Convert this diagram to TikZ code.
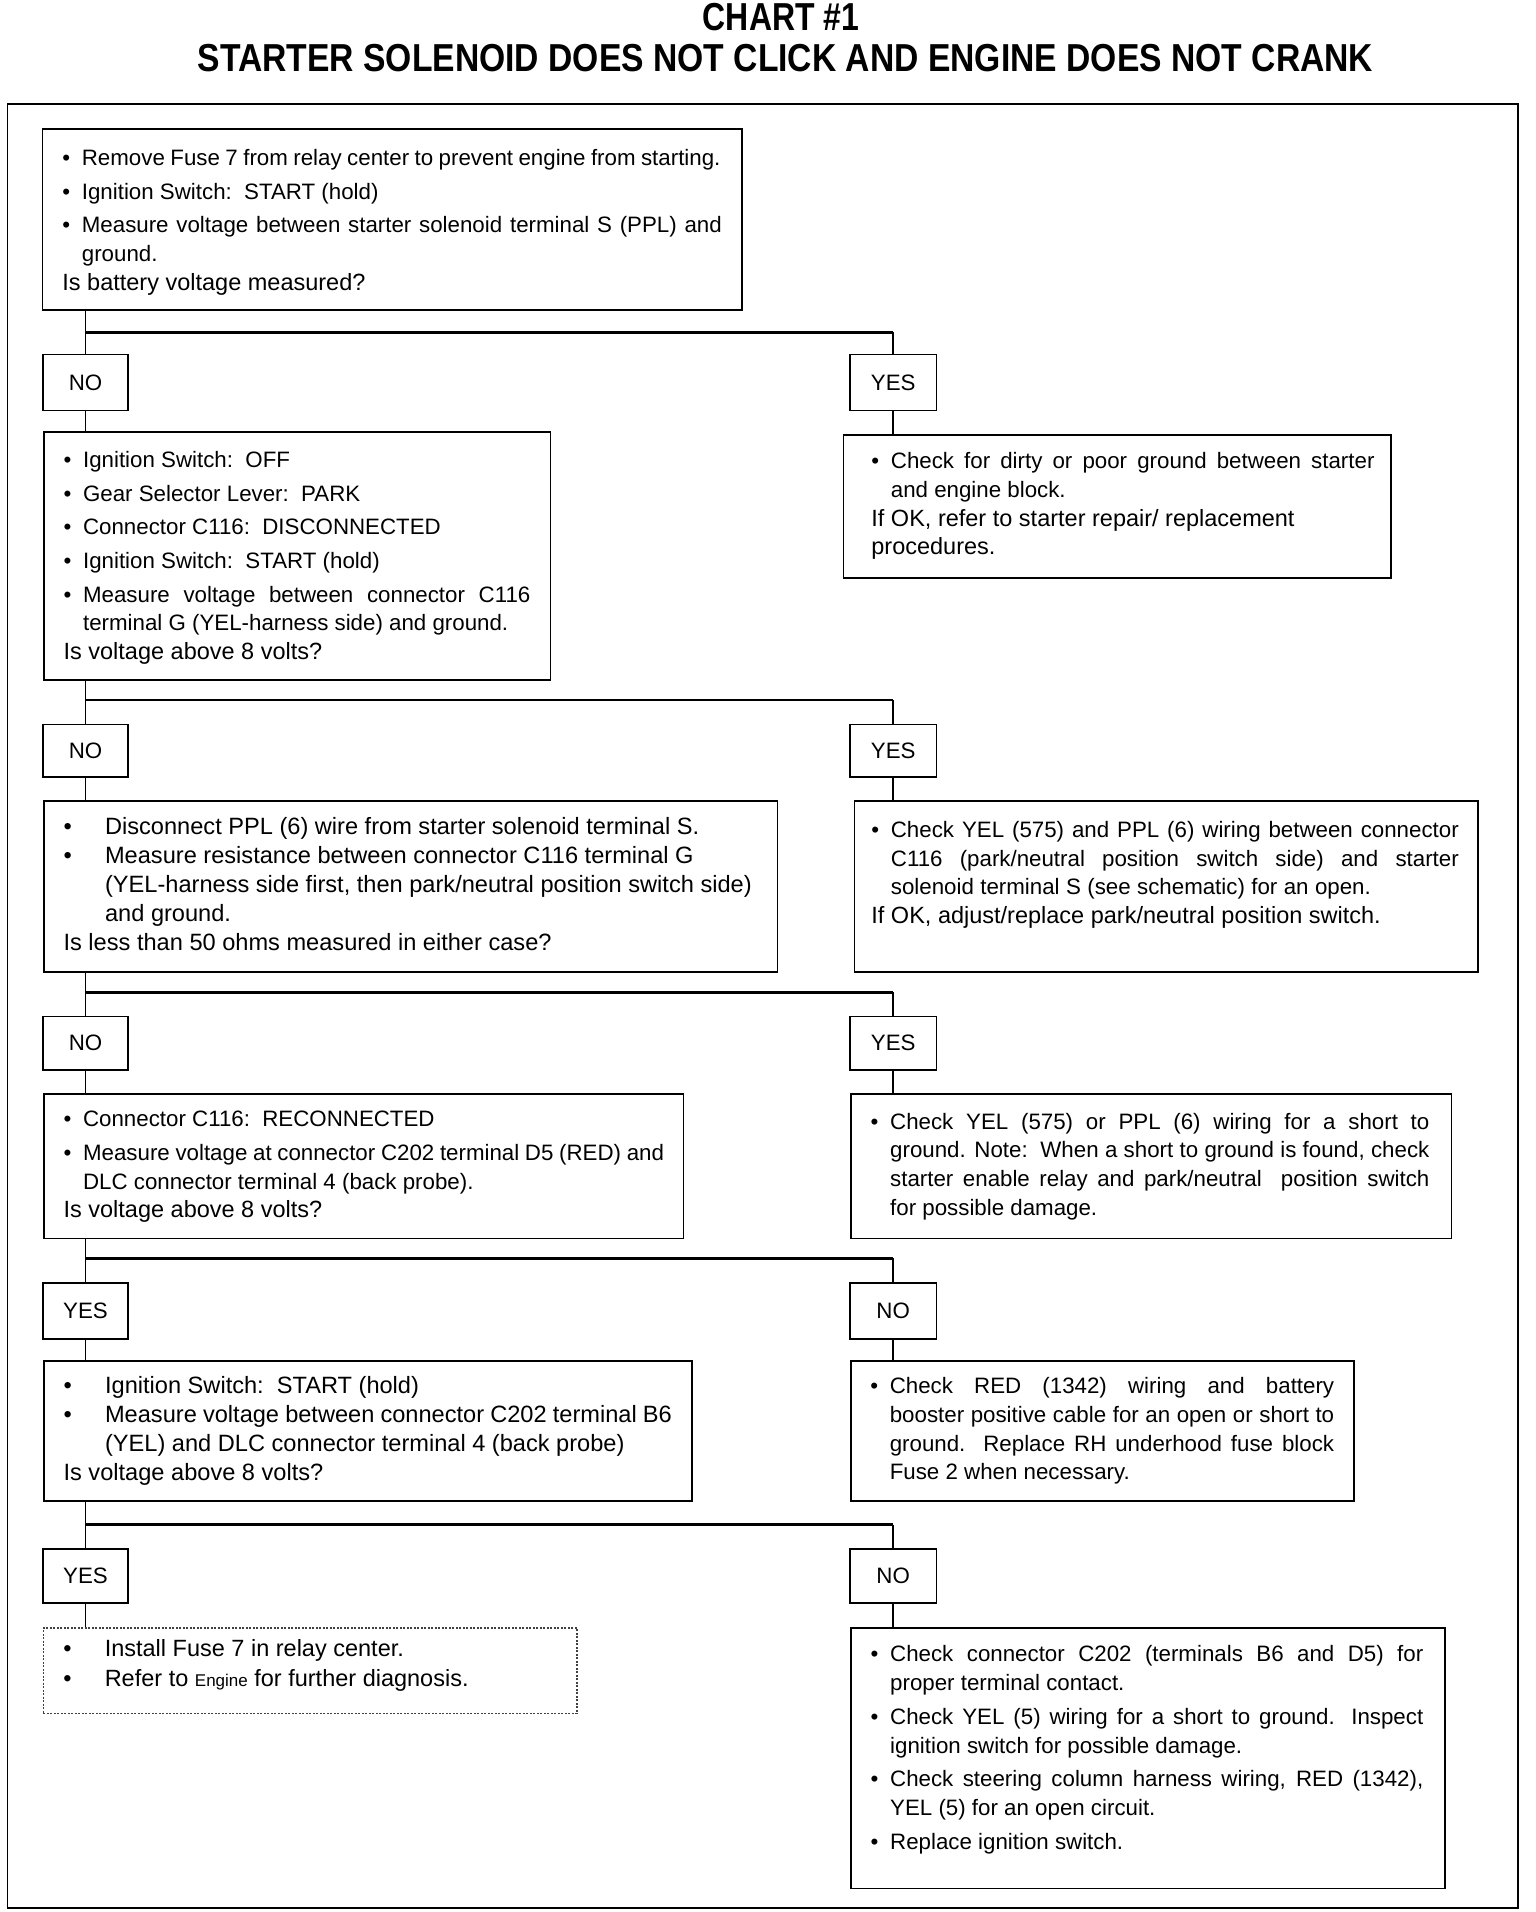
\documentclass[tikz,border=0pt]{standalone}
\usepackage{fontspec}
\setmainfont{Liberation Sans}
\usepackage{graphicx}
\newlength\bind
\newlength\lofs
\newcommand\tb[2]{\vbox{\hsize=#1\relax\lineskiplimit=-100pt\setlength\lofs{0pt}\setlength\bind{19.5pt}#2}}
\newcommand\BR[1]{\hbox to\hsize{\hskip\lofs\relax\makebox[\bind][l]{\textbullet}#1\strut\hfil}}
\newcommand\BJ[1]{\hbox to\hsize{\hskip\lofs\relax\makebox[\bind][l]{\textbullet}\makebox[\dimexpr\hsize-\bind-\lofs\relax][s]{#1\strut}}}
\newcommand\BS[2]{\hbox to\hsize{\hskip\lofs\relax\makebox[\bind][l]{\textbullet}\makebox[#1][s]{#2\strut}\hfil}}
\newcommand\CR[1]{\hbox to\hsize{\hskip\dimexpr\lofs+\bind\relax\relax #1\strut\hfil}}
\newcommand\CJ[1]{\hbox to\hsize{\hskip\dimexpr\lofs+\bind\relax\relax\makebox[\dimexpr\hsize-\bind-\lofs\relax][s]{#1\strut}}}
\newcommand\CS[2]{\hbox to\hsize{\hskip\dimexpr\lofs+\bind\relax\relax\makebox[#1][s]{#2\strut}\hfil}}
\newcommand\PR[1]{\hbox to\hsize{\hskip\lofs\relax #1\strut\hfil}}
\newcommand\gap{\vskip5pt}
\newcommand\qf{\fontsize{23.5}{28.7}\selectfont}
\begin{document}
\begin{tikzpicture}[x=1pt,y=-1pt,
  box/.style={draw, line width=1.8pt, inner sep=0pt, anchor=north west, font=\fontsize{22.3}{28.7}\selectfont},
  bigbox/.style={box, font=\fontsize{23.6}{28.9}\selectfont},
  dotbox/.style={draw=black!75, dash pattern=on 2pt off 1.5pt, line width=1.2pt, inner sep=0pt, anchor=north west, font=\fontsize{23.5}{29.3}\selectfont},
  lbl/.style={draw, line width=1.8pt, inner sep=0pt, font=\fontsize{22.3}{26}\selectfont},
  nolbl/.style={lbl, minimum width=85.5pt},
  yeslbl/.style={lbl, minimum width=86.7pt},
  conn/.style={line width=1.8pt},
  branch/.style={line width=2.6pt},
  ttl/.style={anchor=base, font=\fontsize{39}{44}\selectfont\bfseries}
]
\useasboundingbox (0,0) rectangle (1536,1912);
% frame
\draw[line width=1.5pt] (7.3,104) rectangle (1518,1908);
% title
\node[ttl] (t1) at (781,30.5) {\scalebox{0.82}[1]{CHART \#1}};
\node[ttl] (t2) at (785.5,71) {\scalebox{0.863}[1]{STARTER SOLENOID DOES NOT CLICK AND ENGINE DOES NOT CRANK}};

% ---- row 0
\node[box, minimum width=699.5pt, minimum height=181pt] (b1) at (41.5,128.3) {\tb{659.5pt}{\vskip5pt
\BS{638.6pt}{Remove Fuse 7 from relay center to prevent engine from starting.}\gap
\BR{Ignition Switch:\ \ START (hold)}\gap
\BJ{Measure voltage between starter solenoid terminal S (PPL) and}
\CR{ground.}
\PR{\qf Is battery voltage measured?}}};

% ---- row 1
\node[nolbl, minimum height=56pt] (no1) at (85.5,382.4) {NO};
\node[yeslbl, minimum height=56pt] (yes1) at (893.2,382.4) {YES};

\node[box, minimum width=506.8pt, minimum height=248pt] (b2) at (42.7,431.3) {\tb{466.8pt}{\vskip3pt
\BR{Ignition Switch:\ \ OFF}\gap
\BR{Gear Selector Lever:\ \ PARK}\gap
\BR{Connector C116:\ \ DISCONNECTED}\gap
\BR{Ignition Switch:\ \ START (hold)}\gap
\BJ{Measure voltage between connector C116}
\CR{terminal G (YEL-harness side) and ground.}
\PR{\qf Is voltage above 8 volts?}}};

\node[box, minimum width=547.5pt, minimum height=143pt] (r1) at (842.5,433.7) {\tb{514.7pt}{\setlength\lofs{11.6pt}%
\BJ{Check for dirty or poor ground between starter}
\CR{and engine block.}
\PR{\qf If OK, refer to starter repair/ replacement}
\PR{\qf procedures.}}};

% ---- row 2
\node[nolbl, minimum height=52.5pt] (no2) at (85.5,750.8) {NO};
\node[yeslbl, minimum height=52.5pt] (yes2) at (893.2,750.8) {YES};

\node[bigbox, minimum width=733.9pt, minimum height=171pt] (b3) at (42.7,800.2) {\tb{693.9pt}{\setlength\bind{41.5pt}%
\BR{Disconnect PPL (6) wire from starter solenoid terminal S.}
\BR{Measure resistance between connector C116 terminal G}
\CR{(YEL-harness side first, then park/neutral position switch side)}
\CR{and ground.}
\PR{Is less than 50 ohms measured in either case?}}};

\node[box, minimum width=623.9pt, minimum height=171pt] (r2) at (853.5,800.2) {\tb{584.9pt}{\setlength\lofs{-2.5pt}%
\BJ{Check YEL (575) and PPL (6) wiring between connector}
\CJ{C116 (park/neutral position switch side) and starter}
\CS{480pt}{solenoid terminal S (see schematic) for an open.}
\PR{\qf If OK, adjust/replace park/neutral position switch.}
\vskip24pt}};

% ---- row 3
\node[nolbl, minimum height=53.8pt] (no3) at (85.5,1043.3) {NO};
\node[yeslbl, minimum height=53.8pt] (yes3) at (893.2,1043.3) {YES};

\node[box, minimum width=639.8pt, minimum height=144.2pt] (b4) at (42.7,1093.4) {\tb{599.8pt}{%
\BR{Connector C116:\ \ RECONNECTED}\gap
\BS{581pt}{Measure voltage at connector C202 terminal D5 (RED) and}
\CR{DLC connector terminal 4 (back probe).}
\PR{\qf Is voltage above 8 volts?}}};

\node[box, minimum width=600.7pt, minimum height=144.2pt] (r3) at (849.8,1093.4) {\tb{556.7pt}{\setlength\lofs{-2pt}%
\BJ{Check YEL (575) or PPL (6) wiring for a short to}
\CJ{ground. Note:\ \ When a short to ground is found, check}
\CJ{starter enable relay and park/neutral\ \ position switch}
\CR{for possible damage.}}};

% ---- row 4
\node[nolbl, minimum height=56pt] (yes4) at (85.5,1311) {YES};
\node[yeslbl, minimum height=56pt] (no4) at (893.2,1311) {NO};

\node[bigbox, minimum width=648.3pt, minimum height=140.4pt] (b5) at (42.7,1359.8) {\tb{608.3pt}{\setlength\bind{41.5pt}%
\BR{Ignition Switch:\ \ START (hold)}
\BR{Measure voltage between connector C202 terminal B6}
\CR{(YEL) and DLC connector terminal 4 (back probe)}
\PR{Is voltage above 8 volts?}}};

\node[box, minimum width=503.1pt, minimum height=140.4pt] (r4) at (849.8,1359.8) {\tb{463.9pt}{%
\BJ{Check RED (1342) wiring and battery}
\CJ{booster positive cable for an open or short to}
\CJ{ground.\ \ Replace RH underhood fuse block}
\CR{Fuse 2 when necessary.}}};

% ---- row 5
\node[nolbl, minimum height=53.8pt] (yes5) at (85.5,1576) {YES};
\node[yeslbl, minimum height=53.8pt] (no5) at (893.2,1576) {NO};

\node[dotbox, minimum width=533.6pt, minimum height=85.5pt] (b6) at (42.7,1627.3) {\tb{493.6pt}{\setlength\bind{41.5pt}%
\BR{Install Fuse 7 in relay center.}
\BR{Refer to {\fontsize{17}{20}\selectfont Engine} for further diagnosis.}
\vskip10pt}};

\node[box, minimum width=594.6pt, minimum height=260.2pt] (r5) at (849.8,1627.3) {\tb{550.6pt}{\setlength\lofs{-2pt}%
\BJ{Check connector C202 (terminals B6 and D5) for}
\CR{proper terminal contact.}\gap
\BJ{Check YEL (5) wiring for a short to ground. Inspect}
\CR{ignition switch for possible damage.}\gap
\BJ{Check steering column harness wiring, RED (1342),}
\CR{YEL (5) for an open circuit.}\gap
\BR{Replace ignition switch.}
\vskip17pt}};

% ---- junctions
\coordinate (j1) at (0,332.3);
\coordinate (j2) at (0,700);
\coordinate (j3) at (0,992.3);
\coordinate (j4) at (0,1258.4);
\coordinate (j5) at (0,1524.7);

% ---- connectors
\draw[conn] (b1.south -| no1) -- (no1.north);
\draw[branch] (no1 |- j1) -- (yes1 |- j1);
\draw[conn] (yes1 |- j1) -- (yes1.north);
\draw[conn] (no1.south) -- (no1 |- b2.north);
\draw[conn] (yes1.south) -- (yes1 |- r1.north);

\draw[conn] (b2.south -| no2) -- (no2.north);
\draw[branch] (no2 |- j2) -- (yes2 |- j2);
\draw[conn] (yes2 |- j2) -- (yes2.north);
\draw[conn] (no2.south) -- (no2 |- b3.north);
\draw[conn] (yes2.south) -- (yes2 |- r2.north);

\draw[conn] (b3.south -| no3) -- (no3.north);
\draw[branch] (no3 |- j3) -- (yes3 |- j3);
\draw[conn] (yes3 |- j3) -- (yes3.north);
\draw[conn] (no3.south) -- (no3 |- b4.north);
\draw[conn] (yes3.south) -- (yes3 |- r3.north);

\draw[conn] (b4.south -| yes4) -- (yes4.north);
\draw[branch] (yes4 |- j4) -- (no4 |- j4);
\draw[conn] (no4 |- j4) -- (no4.north);
\draw[conn] (yes4.south) -- (yes4 |- b5.north);
\draw[conn] (no4.south) -- (no4 |- r4.north);

\draw[conn] (b5.south -| yes5) -- (yes5.north);
\draw[branch] (yes5 |- j5) -- (no5 |- j5);
\draw[conn] (no5 |- j5) -- (no5.north);
\draw[conn] (yes5.south) -- (yes5 |- b6.north);
\draw[conn] (no5.south) -- (no5 |- r5.north);
\end{tikzpicture}
\end{document}
